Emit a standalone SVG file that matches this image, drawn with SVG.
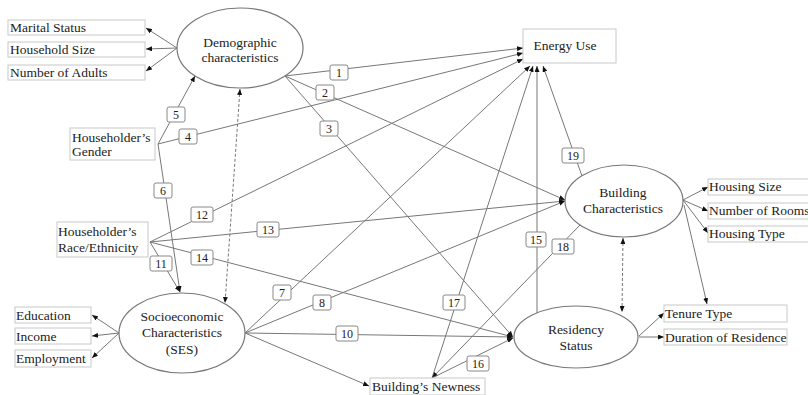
<svg xmlns="http://www.w3.org/2000/svg" width="808" height="395" viewBox="0 0 808 395">
<defs>
<marker id="ah" viewBox="0 0 6 5" refX="6" refY="2.5" markerWidth="6" markerHeight="5" markerUnits="userSpaceOnUse" orient="auto-start-reverse"><path d="M0,0 L6,2.5 L0,5 z" fill="#111"/></marker>
</defs>
<style>
text{fill:#222;}
.t{font-size:13.5px;}
.n{font-size:12px;text-anchor:middle;}
.c{text-anchor:middle;}
.box{fill:#fff;stroke:#c8c8c8;stroke-width:1;}
.ell{fill:#fff;stroke:#777;stroke-width:1.2;}
.lb{fill:#fff;stroke:#888;stroke-width:1;}
.ln{stroke:#777;stroke-width:1;fill:none;}
.ar{marker-end:url(#ah);}
.dash{stroke-dasharray:3,2;marker-start:url(#ah);marker-end:url(#ah);}
</style>
<rect width="808" height="395" fill="#fff"/>
<g font-family="Liberation Serif">
<g id="connectors">
<line class="ln ar" x1="177" y1="48" x2="146" y2="28"/>
<line class="ln ar" x1="177" y1="48" x2="146" y2="49"/>
<line class="ln ar" x1="177" y1="48" x2="146" y2="71"/>
<line class="ln ar" x1="158" y1="144" x2="195" y2="76"/>
<line class="ln ar" x1="158" y1="144" x2="523" y2="53"/>
<line class="ln ar" x1="158" y1="144" x2="180" y2="292"/>
<line class="ln dash" x1="240" y1="89" x2="225" y2="303"/>
<line class="ln ar" x1="285" y1="76" x2="523" y2="48"/>
<line class="ln ar" x1="285" y1="76" x2="565" y2="200"/>
<line class="ln ar" x1="285" y1="76" x2="513" y2="337"/>
<line class="ln ar" x1="150" y1="242" x2="523" y2="59"/>
<line class="ln ar" x1="150" y1="242" x2="565" y2="201"/>
<line class="ln ar" x1="150" y1="242" x2="513" y2="337"/>
<line class="ln ar" x1="150" y1="242" x2="180" y2="292"/>
<line class="ln ar" x1="119" y1="333" x2="92" y2="315"/>
<line class="ln ar" x1="119" y1="333" x2="92" y2="336"/>
<line class="ln ar" x1="119" y1="333" x2="92" y2="358"/>
<line class="ln ar" x1="245" y1="333" x2="530" y2="66"/>
<line class="ln ar" x1="245" y1="333" x2="565" y2="201"/>
<line class="ln ar" x1="245" y1="333" x2="513" y2="337"/>
<line class="ln ar" x1="245" y1="333" x2="369" y2="386"/>
<line class="ln ar" x1="432" y1="378" x2="533" y2="66"/>
<line class="ln ar" x1="580" y1="225" x2="432" y2="378"/>
<line class="ln ar" x1="432" y1="378" x2="513" y2="338"/>
<line class="ln ar" x1="537" y1="313" x2="537" y2="66"/>
<line class="ln ar" x1="582" y1="176" x2="543" y2="66"/>
<line class="ln dash" x1="623" y1="238" x2="622" y2="312"/>
<line class="ln ar" x1="683" y1="200" x2="708" y2="187"/>
<line class="ln ar" x1="683" y1="200" x2="708" y2="211"/>
<line class="ln ar" x1="683" y1="200" x2="708" y2="233"/>
<line class="ln ar" x1="684" y1="205" x2="707" y2="304"/>
<line class="ln ar" x1="639" y1="336" x2="664" y2="313"/>
<line class="ln ar" x1="639" y1="337" x2="664" y2="337"/>
<g id="labels">
<rect class="lb" x="330" y="65" width="18" height="15" rx="2"/><text class="n" x="339" y="77">1</text>
<rect class="lb" x="316" y="85" width="18" height="15" rx="2"/><text class="n" x="325" y="97">2</text>
<rect class="lb" x="320" y="121" width="18" height="15" rx="2"/><text class="n" x="329" y="133">3</text>
<rect class="lb" x="179" y="129" width="18" height="15" rx="2"/><text class="n" x="188" y="141">4</text>
<rect class="lb" x="167" y="107" width="18" height="15" rx="2"/><text class="n" x="176" y="119">5</text>
<rect class="lb" x="154" y="183" width="18" height="15" rx="2"/><text class="n" x="163" y="195">6</text>
<rect class="lb" x="273" y="285" width="18" height="15" rx="2"/><text class="n" x="282" y="297">7</text>
<rect class="lb" x="313" y="295" width="18" height="15" rx="2"/><text class="n" x="322" y="307">8</text>
<rect class="lb" x="336" y="326" width="22" height="15" rx="2"/><text class="n" x="347" y="338">10</text>
<rect class="lb" x="150" y="256" width="22" height="15" rx="2"/><text class="n" x="161" y="268">11</text>
<rect class="lb" x="191" y="207" width="22" height="15" rx="2"/><text class="n" x="202" y="219">12</text>
<rect class="lb" x="257" y="222" width="22" height="15" rx="2"/><text class="n" x="268" y="234">13</text>
<rect class="lb" x="191" y="250" width="22" height="15" rx="2"/><text class="n" x="202" y="262">14</text>
<rect class="lb" x="526" y="232" width="20" height="15" rx="2"/><text class="n" x="536" y="244">15</text>
<rect class="lb" x="467" y="356" width="22" height="15" rx="2"/><text class="n" x="478" y="368">16</text>
<rect class="lb" x="443" y="295" width="22" height="15" rx="2"/><text class="n" x="454" y="307">17</text>
<rect class="lb" x="552" y="239" width="22" height="15" rx="2"/><text class="n" x="563" y="251">18</text>
<rect class="lb" x="562" y="148" width="22" height="15" rx="2"/><text class="n" x="573" y="160">19</text>
</g>
</g>
<g id="demographic"><ellipse class="ell" cx="240" cy="48" rx="63" ry="40"/><text class="t c" x="240" y="47">Demographic</text><text class="t c" x="240" y="62">characteristics</text></g>
<g id="marital"><rect class="box" x="8" y="20" width="137" height="15"/><text class="t" x="10" y="32">Marital Status</text></g>
<g id="household"><rect class="box" x="8" y="42" width="137" height="15"/><text class="t" x="10" y="54">Household Size</text></g>
<g id="adults"><rect class="box" x="8" y="65" width="137" height="15"/><text class="t" x="10" y="77">Number of Adults</text></g>
<g id="gender"><rect class="box" x="70" y="128" width="85" height="32"/><text class="t" x="72" y="142">Householder’s</text><text class="t" x="72" y="156">Gender</text></g>
<g id="energy"><rect class="box" x="523" y="29" width="93" height="34"/><text class="t c" x="565" y="50">Energy Use</text></g>
<g id="building"><ellipse class="ell" cx="624" cy="201" rx="59" ry="36"/><text class="t c" x="623" y="197">Building</text><text class="t c" x="623" y="213">Characteristics</text></g>
<g id="housingsize"><rect class="box" x="708" y="179" width="104" height="16"/><text class="t" x="709" y="191">Housing Size</text></g>
<g id="rooms"><rect class="box" x="708" y="203" width="104" height="16"/><text class="t" x="709" y="215">Number of Rooms</text></g>
<g id="housingtype"><rect class="box" x="708" y="226" width="104" height="16"/><text class="t" x="709" y="238">Housing Type</text></g>
<g id="race"><rect class="box" x="57" y="222" width="91" height="35"/><text class="t" x="58" y="236">Householder’s</text><text class="t" x="58" y="252">Race/Ethnicity</text></g>
<g id="ses"><ellipse class="ell" cx="182" cy="333" rx="63" ry="40"/><text class="t c" x="182" y="321">Socioeconomic</text><text class="t c" x="182" y="337">Characteristics</text><text class="t c" x="182" y="354">(SES)</text></g>
<g id="education"><rect class="box" x="15" y="307" width="76" height="16"/><text class="t" x="16" y="320">Education</text></g>
<g id="income"><rect class="box" x="15" y="328" width="76" height="16"/><text class="t" x="16" y="341">Income</text></g>
<g id="employment"><rect class="box" x="15" y="350" width="76" height="17"/><text class="t" x="16" y="363">Employment</text></g>
<g id="residency"><ellipse class="ell" cx="576" cy="337" rx="62" ry="31"/><text class="t c" x="576" y="334">Residency</text><text class="t c" x="576" y="350">Status</text></g>
<g id="tenure"><rect class="box" x="664" y="305" width="123" height="17"/><text class="t" x="665" y="318">Tenure Type</text></g>
<g id="duration"><rect class="box" x="664" y="329" width="123" height="16"/><text class="t" x="665" y="342">Duration of Residence</text></g>
<g id="newness"><rect class="box" x="370" y="378" width="115" height="17"/><text class="t" x="372" y="391">Building’s Newness</text></g>
</g>
</svg>
